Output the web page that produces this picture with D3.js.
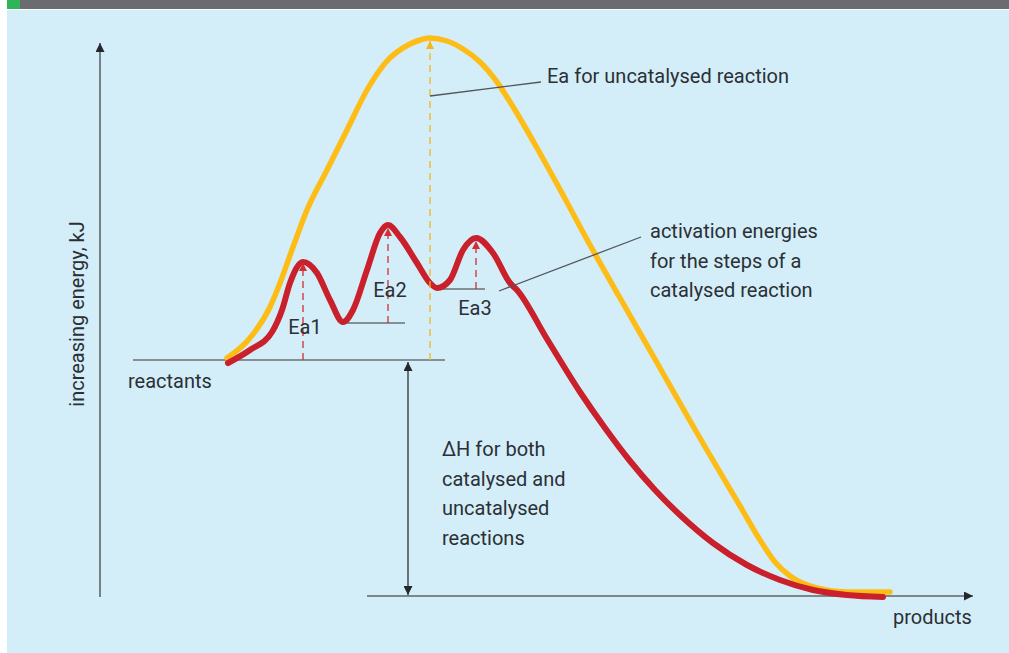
<!DOCTYPE html>
<html>
<head>
<meta charset="utf-8">
<script src="https://cdn.jsdelivr.net/npm/d3@7"></script>
<style>
  html, body { margin: 0; padding: 0; background: #ffffff; }
  svg text { font-family: Roboto, "Liberation Sans", sans-serif; fill: #2b3035; }
</style>
</head>
<body>
<div id="chart"></div>
<script>
// reaction progress (arbitrary units) against energy (arbitrary units)
var uncatProgress = [127, 150, 170, 180, 193, 207, 227, 247, 267, 277, 287, 297, 310, 320, 329, 347, 363, 380, 397, 415, 437, 463, 490, 520, 560, 597, 640, 660, 675, 690, 713, 747, 790];
var uncatEnergy   = [238, 258, 289, 313, 349, 386, 426, 466, 506, 522, 535, 544, 552, 556, 558, 555, 547, 534, 514, 486, 448, 401, 351, 298, 228, 163, 90, 56, 34, 20, 9, 4, 4];

var catProgress = [128, 150, 172, 182, 190, 203, 217, 230, 243, 253, 267, 280, 288, 300, 317, 330, 337, 350, 363, 376, 393, 410, 417, 447, 480, 505, 530, 555, 580, 613, 647, 680, 713, 747, 783];
var catEnergy   = [233, 246, 264, 286, 313, 334, 323, 296, 274, 286, 326, 363, 371, 359, 333, 313, 308, 316, 346, 358, 343, 313, 306, 257, 204, 168, 135, 106, 81, 53, 31, 16, 6, 1, -1];

var reactantsEnergy = 236;
var productsEnergy = 0;

// activation energy arrows of the catalysed steps
var stepNames = ["Ea1", "Ea2", "Ea3"];
var stepProgress = [203, 288, 376];
var stepBase = [236, 273, 307];
var stepTop = [333, 368, 355];
var stepBaseFrom = [null, 243, 338];
var stepBaseTo = [null, 305, 385];

// activation energy of the uncatalysed reaction
var uncatPeakProgress = 330;
var uncatPeakTop = 555;

var dhLines = ["\u0394H for both", "catalysed and", "uncatalysed", "reactions"];
var stepLines = ["activation energies", "for the steps of a", "catalysed reaction"];

var W = 1009, H = 653;

var svg = d3.select("#chart").append("svg")
    .attr("width", W)
    .attr("height", H);

// page frame
svg.append("rect").attr("x", 7).attr("y", 10).attr("width", W - 7).attr("height", H - 10).attr("fill", "#d4eef9");
svg.append("rect").attr("x", 7).attr("y", 0).attr("width", W - 7).attr("height", 9).attr("fill", "#6b6c6f");
svg.append("rect").attr("x", 7).attr("y", 0).attr("width", 13).attr("height", 9).attr("fill", "#2fb457");

var x = d3.scaleLinear().domain([0, 870]).range([100, 970]);
var y = d3.scaleLinear().domain([0, 560]).range([596, 36]);

var defs = svg.append("defs");
function marker(id, color, w, h) {
  defs.append("marker")
      .attr("id", id)
      .attr("viewBox", "0 0 10 10")
      .attr("refX", 10).attr("refY", 5)
      .attr("markerWidth", w).attr("markerHeight", h)
      .attr("markerUnits", "userSpaceOnUse")
      .attr("orient", "auto-start-reverse")
      .append("path")
        .attr("d", "M0,0L10,5L0,10Z")
        .attr("fill", color);
}
marker("arrAxis", "#24282c", 10, 9);
marker("arrRed", "#d52d34", 8, 8);
marker("arrYel", "#f8b51a", 8, 8);

var g = svg.append("g");

// axes
g.append("line")
    .attr("x1", x(0)).attr("y1", y(-1))
    .attr("x2", x(0)).attr("y2", y(553))
    .attr("stroke", "#5f6467").attr("stroke-width", 1.6)
    .attr("marker-end", "url(#arrAxis)");
g.append("line")
    .attr("x1", x(267)).attr("y1", y(productsEnergy))
    .attr("x2", x(873)).attr("y2", y(productsEnergy))
    .attr("stroke", "#5f6467").attr("stroke-width", 1.6)
    .attr("marker-end", "url(#arrAxis)");

// reactants level
g.append("line")
    .attr("x1", x(33)).attr("y1", y(reactantsEnergy))
    .attr("x2", x(345)).attr("y2", y(reactantsEnergy))
    .attr("stroke", "#6b7072").attr("stroke-width", 1.6);

// step base levels
stepProgress.forEach(function(p, i){
  if (stepBaseFrom[i] === null) return;
  g.append("line")
      .attr("x1", x(stepBaseFrom[i])).attr("y1", y(stepBase[i]))
      .attr("x2", x(stepBaseTo[i])).attr("y2", y(stepBase[i]))
      .attr("stroke", "#6b7072").attr("stroke-width", 1.6);
});

// delta H arrow
g.append("line")
    .attr("x1", x(308)).attr("y1", y(productsEnergy) - 1)
    .attr("x2", x(308)).attr("y2", y(reactantsEnergy) + 2)
    .attr("stroke", "#3b3f43").attr("stroke-width", 1.4)
    .attr("marker-start", "url(#arrAxis)")
    .attr("marker-end", "url(#arrAxis)");

// curves
var line = d3.line()
    .x(function(d){ return x(d[0]); })
    .y(function(d){ return y(d[1]); })
    .curve(d3.curveMonotoneX);

g.append("path")
    .attr("d", line(d3.zip(uncatProgress, uncatEnergy)))
    .attr("fill", "none").attr("stroke", "#fdbd16")
    .attr("stroke-width", 5.5).attr("stroke-linecap", "round").attr("stroke-linejoin", "round");
g.append("path")
    .attr("d", line(d3.zip(catProgress, catEnergy)))
    .attr("fill", "none").attr("stroke", "#c9202b")
    .attr("stroke-width", 6).attr("stroke-linecap", "round").attr("stroke-linejoin", "round");

// dashed activation arrows
g.append("line")
    .attr("x1", x(uncatPeakProgress)).attr("y1", y(reactantsEnergy))
    .attr("x2", x(uncatPeakProgress)).attr("y2", y(uncatPeakTop))
    .attr("stroke", "#f8b51a").attr("stroke-width", 1.3)
    .attr("stroke-dasharray", "7,5")
    .attr("marker-end", "url(#arrYel)");

stepProgress.forEach(function(p, i){
  g.append("line")
      .attr("x1", x(p)).attr("y1", y(stepBase[i]))
      .attr("x2", x(p)).attr("y2", y(stepTop[i]))
      .attr("stroke", "#d52d34").attr("stroke-width", 1.3)
      .attr("stroke-dasharray", "7,5")
      .attr("marker-end", "url(#arrRed)");
});

// step labels
var labelDx = [2, 2, -1];
var labelDy = [-26, -26, 26];
stepNames.forEach(function(n, i){
  g.append("text")
      .attr("x", x(stepProgress[i]) + labelDx[i])
      .attr("y", y(stepBase[i]) + labelDy[i])
      .attr("text-anchor", "middle")
      .attr("font-size", 20)
      .text(n);
});

// leader lines
g.append("line")
    .attr("x1", x(330)).attr("y1", y(500))
    .attr("x2", x(441)).attr("y2", y(514))
    .attr("stroke", "#50565a").attr("stroke-width", 1.3);
g.append("line")
    .attr("x1", x(399)).attr("y1", y(305))
    .attr("x2", x(541)).attr("y2", y(359))
    .attr("stroke", "#50565a").attr("stroke-width", 1.3);

// annotation texts
g.append("text")
    .attr("x", 547).attr("y", 83)
    .attr("font-size", 20)
    .text("Ea for uncatalysed reaction");

g.append("text")
    .attr("x", 650).attr("y", 238)
    .attr("font-size", 20)
    .selectAll("tspan").data(stepLines).join("tspan")
      .attr("x", 650)
      .attr("dy", function(d, i){ return i === 0 ? 0 : 29.5; })
      .text(function(d){ return d; });

g.append("text")
    .attr("x", 442).attr("y", 456)
    .attr("font-size", 20)
    .selectAll("tspan").data(dhLines).join("tspan")
      .attr("x", 442)
      .attr("dy", function(d, i){ return i === 0 ? 0 : 29.5; })
      .text(function(d){ return d; });

g.append("text")
    .attr("x", 128).attr("y", 388)
    .attr("font-size", 20)
    .text("reactants");

g.append("text")
    .attr("x", 893).attr("y", 624)
    .attr("font-size", 20)
    .text("products");

g.append("text")
    .attr("transform", "translate(84,314) rotate(-90)")
    .attr("text-anchor", "middle")
    .attr("font-size", 20)
    .text("increasing energy, kJ");
</script>
</body>
</html>
